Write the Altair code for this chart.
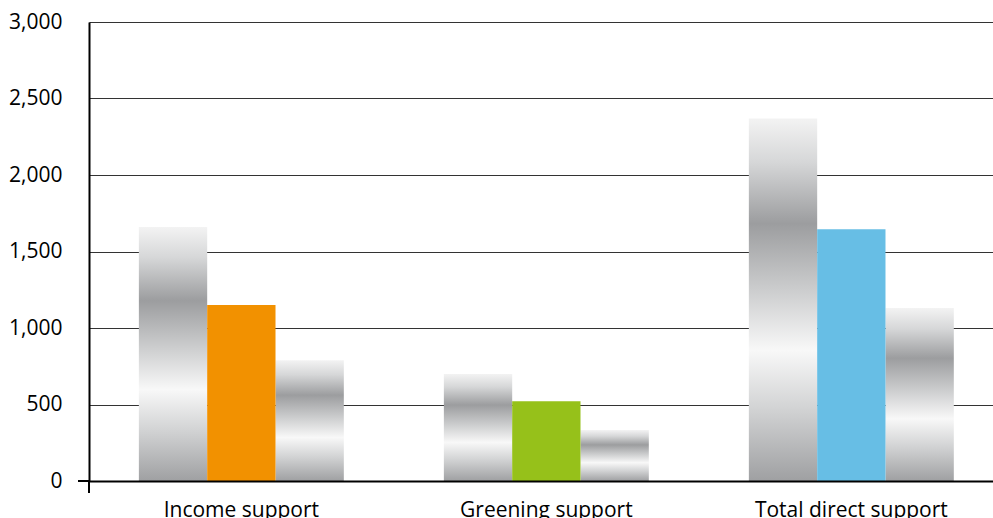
import altair as alt
import pandas as pd

categories = ["Income support", "Greening support", "Total direct support"]
left_gray = [1660, 700, 2370]
colored = [1150, 522, 1645]
right_gray = [790, 333, 1130]
y_ticks = [0, 500, 1000, 1500, 2000, 2500, 3000]
bar_colors = ["#F29100", "#96C11A", "#67BEE5"]

rows = []
for i, c in enumerate(categories):
    rows.append({"category": c, "pos": "a", "value": left_gray[i]})
    rows.append({"category": c, "pos": "b", "value": colored[i]})
    rows.append({"category": c, "pos": "c", "value": right_gray[i]})
df = pd.DataFrame(rows)

FONT = "Open Sans"

x_enc = alt.X(
    "category:N",
    sort=categories,
    scale=alt.Scale(paddingInner=0.328, paddingOuter=0.146, align=0.56),
    axis=alt.Axis(
        title=None, labelAngle=0, ticks=False, domain=True, domainColor="black",
        domainWidth=2, labelPadding=18, labelFont=FONT, labelFontSize=21,
        labelColor="black", grid=False, zindex=1, labelLimit=0,
        labelOverlap=False,
    ),
)
xo_enc = alt.XOffset("pos:N", scale=alt.Scale(domain=["a", "b", "c"], paddingInner=0, paddingOuter=0))
y_enc = alt.Y(
    "value:Q",
    scale=alt.Scale(domain=[0, 3000], nice=False),
    axis=alt.Axis(
        title=None, values=y_ticks, format=",.0f", ticks=False, domain=True,
        domainColor="black", domainWidth=2, labelPadding=27, labelFont=FONT,
        labelFontSize=21, labelColor="black", grid=True, gridColor="#333333",
        gridWidth=1, labelLimit=0,
    ),
)

metal = alt.LinearGradient(
    gradient="linear", x1=0, y1=0, x2=0, y2=1,
    stops=[
        alt.GradientStop(offset=0.0, color="#f3f3f3"),
        alt.GradientStop(offset=0.12, color="#d6d7d8"),
        alt.GradientStop(offset=0.29, color="#9c9d9f"),
        alt.GradientStop(offset=0.47, color="#cbcccd"),
        alt.GradientStop(offset=0.64, color="#f8f8f8"),
        alt.GradientStop(offset=0.80, color="#d2d3d4"),
        alt.GradientStop(offset=1.0, color="#9fa0a2"),
    ],
)

gray_bars = alt.Chart(df).transform_filter(
    alt.FieldOneOfPredicate(field="pos", oneOf=["a", "c"])
).mark_bar(fill=metal, strokeWidth=0).encode(x=x_enc, xOffset=xo_enc, y=y_enc)

color_bars = alt.Chart(df).transform_filter(
    alt.FieldEqualPredicate(field="pos", equal="b")
).mark_bar(strokeWidth=0).encode(
    x=x_enc, xOffset=xo_enc, y=y_enc,
    color=alt.Color("category:N", scale=alt.Scale(domain=categories, range=bar_colors), legend=None),
)

deco = alt.Data(values=[{"k": 1}])
axis_ext = alt.Chart(deco).mark_rule(color="black", strokeWidth=2).encode(
    x=alt.value(0), y=alt.value(459), y2=alt.value(471)
)
base_ext = alt.Chart(deco).mark_rule(color="black", strokeWidth=2).encode(
    x=alt.value(-11), x2=alt.value(0), y=alt.value(459)
)

chart = alt.layer(gray_bars, color_bars, axis_ext, base_ext).properties(
    width=904, height=459,
    padding={"left": 89, "top": 22, "right": 0, "bottom": 37},
    autosize=alt.AutoSizeParams(type="none"),
).configure_view(stroke=None).configure(background="white")

chart.save("out.html", embed_options={"renderer": "svg", "actions": False})
